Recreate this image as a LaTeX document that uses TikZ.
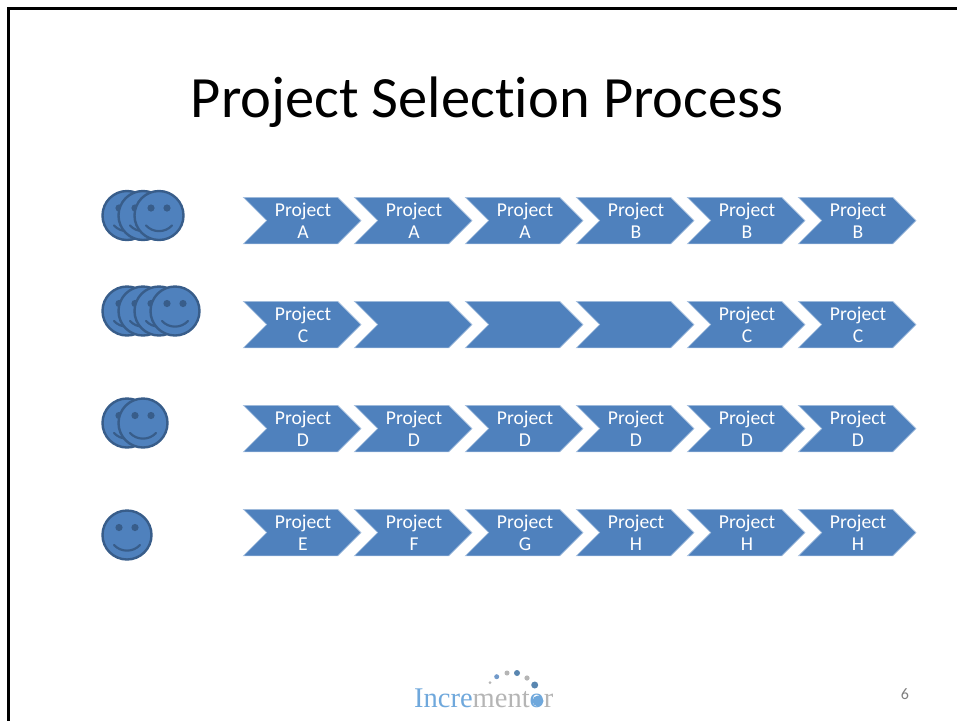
\documentclass[tikz,border=0pt]{standalone}
\usepackage{fontspec}
\setmainfont[Ligatures=NoCommon]{Carlito}
\newfontfamily\logofont{Liberation Serif}
\definecolor{fillblue}{HTML}{4F81BD}
\definecolor{edgeblue}{HTML}{385D8A}
\definecolor{chevedge}{HTML}{A9C2E0}
\definecolor{logoblue}{HTML}{6FA8DC}
\definecolor{logogray}{HTML}{B5B5B5}
\tikzset{
  faceshape/.style={fill=fillblue,draw=edgeblue,line width=2.4pt},
  eyeshape/.style={fill=edgeblue,draw=none},
  smileshape/.style={draw=edgeblue,line width=2.2pt,line cap=round},
  chevshape/.style={fill=fillblue,draw=chevedge,line width=0.6pt,line join=miter},
  chevtext/.style={text=white,font=\fontsize{19.6}{22}\selectfont,align=center,inner sep=0pt},
  pic number/.style={text=gray,font=\fontsize{16}{18}\selectfont}
}
\newcommand{\smiley}[2]{%
  \begin{scope}[shift={(#1,#2)}]
    \draw[faceshape] (0,0) circle (24.5);
    \fill[eyeshape] (-8,-7.5) circle (3.6) (8,-7.5) circle (3.6);
    \draw[smileshape] (-13,10) .. controls (-6,17.5) and (6,17.5) .. (13,10);
  \end{scope}}
\newcommand{\chev}[4]{% x, top y, name, text
  \draw[chevshape] (#1.4,#2.3) -- ++(94.3,0) -- ++(23.3,23.3) -- ++(-23.3,23.3) -- ++(-94.3,0) -- ++(23.3,-23.3) -- cycle;
  \node[chevtext] (#3) at ({#1+60},{#2+26}) {#4\rule[-4pt]{0pt}{4pt}};}
\begin{document}
\begin{tikzpicture}[x=1pt,y=-1pt]
\useasboundingbox (0,0) rectangle (957,721);
\fill[white] (0,0) rectangle (957,721);
\draw[black,line width=2.6pt] (957,8.5) -- (8.5,8.5) -- (8.5,721);
\node[font=\fontsize{58.5}{64}\selectfont,inner sep=0pt] (title) at (487,102) {Project Selection Process};
% faces
\smiley{127}{215.5}\smiley{143}{215.5}\smiley{159}{215.5}
\smiley{127}{311}\smiley{143}{311}\smiley{159}{311}\smiley{175}{311}
\smiley{127}{423}\smiley{143}{423}
\smiley{127}{535}
% row 1
\chev{243}{197}{a1}{Project\\A}\chev{354}{197}{a2}{Project\\A}\chev{465}{197}{a3}{Project\\A}
\chev{576}{197}{a4}{Project\\B}\chev{687}{197}{a5}{Project\\B}\chev{798}{197}{a6}{Project\\B}
% row 2
\chev{243}{301}{b1}{Project\\C}\chev{354}{301}{b2}{}\chev{465}{301}{b3}{}
\chev{576}{301}{b4}{}\chev{687}{301}{b5}{Project\\C}\chev{798}{301}{b6}{Project\\C}
% row 3
\chev{243}{405}{c1}{Project\\D}\chev{354}{405}{c2}{Project\\D}\chev{465}{405}{c3}{Project\\D}
\chev{576}{405}{c4}{Project\\D}\chev{687}{405}{c5}{Project\\D}\chev{798}{405}{c6}{Project\\D}
% row 4
\chev{243}{509}{d1}{Project\\E}\chev{354}{509}{d2}{Project\\F}\chev{465}{509}{d3}{Project\\G}
\chev{576}{509}{d4}{Project\\H}\chev{687}{509}{d5}{Project\\H}\chev{798}{509}{d6}{Project\\H}
% logo
\node[inner sep=0pt,anchor=base west,font=\logofont\fontsize{28.5}{30}\selectfont] (logo) at (414,707)
  {\textcolor{logoblue}{Incre}\textcolor{logogray}{ment}\textcolor{logoblue}{o}\textcolor{logogray}{r}};
\fill[logogray] (490,682.7) circle (1.5);
\fill[fillblue!80] (496.7,676.7) circle (2.5);
\fill[logogray] (507,673) circle (2.5);
\fill[logoblue!80!black] (517,673) circle (3);
\fill[logogray] (527,678) circle (2.6);
\fill[logoblue!80!black] (534.7,685) circle (3.5);
\fill[logoblue] (538,701) circle (5.5);
\node[pic number,inner sep=0pt] (pagenum) at (905,694) {6};
\end{tikzpicture}
\end{document}
